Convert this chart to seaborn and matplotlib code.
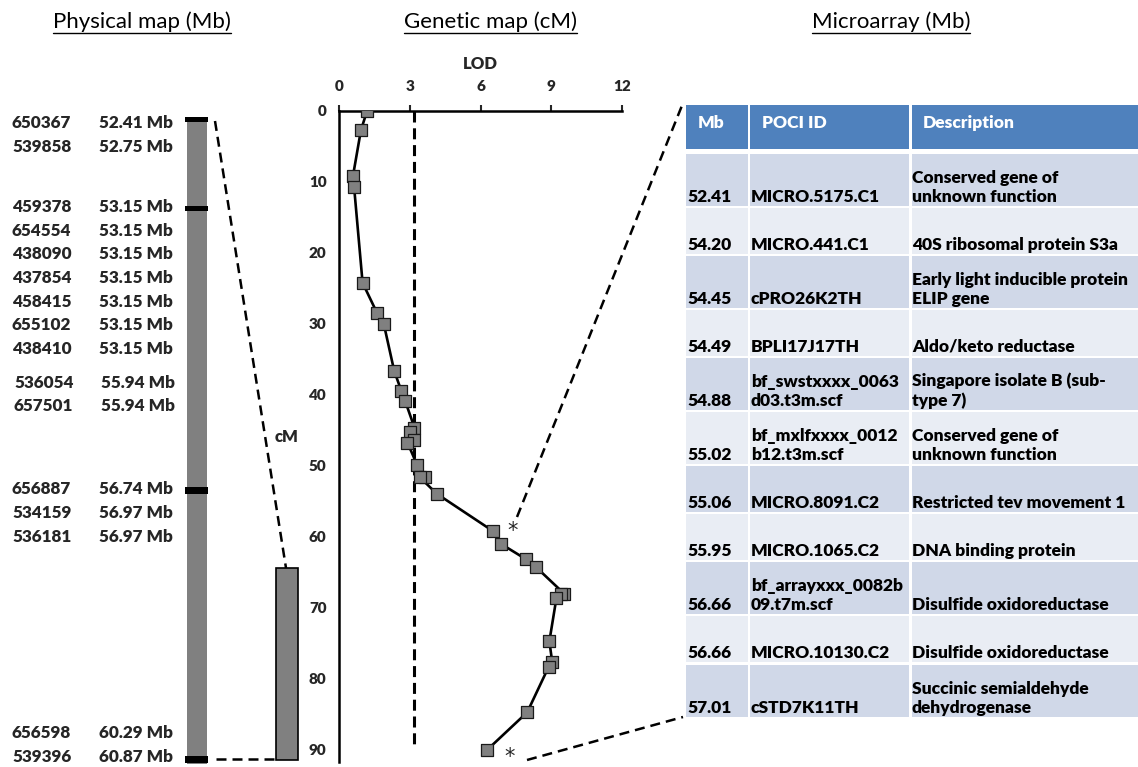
import matplotlib
matplotlib.use('Agg')
import matplotlib.pyplot as plt
import seaborn as sns
import pandas as pd
from matplotlib.patches import Rectangle

# ---------------- data ----------------
lod_cm = [0, 2.7, 9.2, 10.7, 24.2, 28.5, 30.0, 36.6, 39.4, 40.8, 44.6, 45.2, 46.3, 46.7,
          49.9, 51.5, 51.6, 53.9, 59.2, 61.0, 63.1, 64.2, 68.0, 68.0, 68.6, 74.7, 77.6,
          78.3, 84.7, 90.0]
lod_score = [1.19, 0.93, 0.59, 0.64, 1.00, 1.62, 1.90, 2.34, 2.64, 2.80, 3.20, 3.00, 3.20,
             2.90, 3.32, 3.64, 3.43, 4.14, 6.54, 6.88, 7.91, 8.34, 9.55, 9.40, 9.22, 8.92,
             9.04, 8.89, 7.98, 6.28]
lod_threshold = 3.2
threshold_end_cm = 89.3
lod_ticks = [0, 3, 6, 9, 12]
cm_ticks = [0, 10, 20, 30, 40, 50, 60, 70, 80, 90]
asterisk_lod = [7.37, 7.23]
asterisk_cm = [59.0, 90.8]

marker_ids = ['650367', '539858', '459378', '654554', '438090', '437854', '458415',
              '655102', '438410', '536054', '657501', '656887', '534159', '536181',
              '656598', '539396']
marker_mb = ['52.41 Mb', '52.75 Mb', '53.15 Mb', '53.15 Mb', '53.15 Mb', '53.15 Mb',
             '53.15 Mb', '53.15 Mb', '53.15 Mb', '55.94 Mb', '55.94 Mb', '56.74 Mb',
             '56.97 Mb', '56.97 Mb', '60.29 Mb', '60.87 Mb']
band_markers = ['650367', '459378', '656887', '539396']

table_header = ['Mb', 'POCI ID', 'Description']
table_mb = ['52.41', '54.20', '54.45', '54.49', '54.88', '55.02', '55.06', '55.95',
            '56.66', '56.66', '57.01']
table_poci = ['MICRO.5175.C1', 'MICRO.441.C1', 'cPRO26K2TH', 'BPLI17J17TH',
              'bf_swstxxxx_0063\nd03.t3m.scf', 'bf_mxlfxxxx_0012\nb12.t3m.scf',
              'MICRO.8091.C2', 'MICRO.1065.C2', 'bf_arrayxxx_0082b\n09.t7m.scf',
              'MICRO.10130.C2', 'cSTD7K11TH']
table_desc = ['Conserved gene of\nunknown function', '40S ribosomal protein S3a',
              'Early light inducible protein\nELIP gene', 'Aldo/keto reductase',
              'Singapore isolate B (sub-\ntype 7)', 'Conserved gene of\nunknown function',
              'Restricted tev movement 1', 'DNA binding protein', 'Disulfide oxidoreductase',
              'Disulfide oxidoreductase', 'Succinic semialdehyde\ndehydrogenase']

# ---------------- layout ----------------
label_y_px = [123, 146.5, 207, 230.5, 254, 278, 302, 325.5, 349, 382.5, 406, 489,
              512.5, 536.5, 733, 757]
label_dx_px = [0, 0, 0, 0, 0, 0, 0, 0, 0, 2, 2, 0, 0, 0, 0, 0]
BW = 800  # bold weight

sns.set_style('white')
plt.rcParams['font.family'] = ['Lato', 'DejaVu Sans']

W, H = 1138, 767
fig = plt.figure(figsize=(W / 100, H / 100), dpi=100)
ov = fig.add_axes([0, 0, 1, 1])
ov.set_xlim(0, W)
ov.set_ylim(H, 0)
ov.axis('off')


def frac(x0, y0, x1, y1):
    return [x0 / W, 1 - y1 / H, (x1 - x0) / W, (y1 - y0) / H]


# ---- titles ----
titles = []
for cx, t in [(142, 'Physical map (Mb)'), (491, 'Genetic map (cM)'), (891, 'Microarray (Mb)')]:
    titles.append(ov.text(cx, 22, t, ha='center', va='center', fontsize=16, color='black'))

# ---- physical map ----
ov.add_patch(Rectangle((187, 117), 20, 647, facecolor='#808080', edgecolor='none', zorder=1))
for mid, y, dx in zip(marker_ids, label_y_px, label_dx_px):
    ov.text(12 + dx, y, mid, ha='left', va='center', fontsize=12.3, fontweight=BW)
for mb, y, dx in zip(marker_mb, label_y_px, label_dx_px):
    ov.text(173 + dx, y, mb, ha='right', va='center', fontsize=12.3, fontweight=BW)
band_px = {'650367': (117, 5), '459378': (206, 4.5), '656887': (487, 7), '539396': (756, 7)}
for m in band_markers:
    y0, h = band_px[m]
    ov.add_patch(Rectangle((185, y0), 23, h, facecolor='black', edgecolor='none', zorder=2))

# small cM bar
ov.add_patch(Rectangle((276, 568), 22, 192, facecolor='#808080', edgecolor='black', lw=1.2, zorder=2))
dash = (0, (4.0, 2.4))
ov.plot([215, 286], [121, 568], color='black', lw=1.8, ls=dash)
ov.plot([216, 275], [759, 759], color='black', lw=1.8, ls=dash)

# ---- LOD plot ----
ax = fig.add_axes(frac(339, 111, 622, 762))
ax.patch.set_alpha(0)
df = pd.DataFrame({'cM': lod_cm, 'LOD': lod_score})
sns.lineplot(data=df, x='LOD', y='cM', sort=False, estimator=None, color='black',
             lw=1.9, ax=ax, zorder=2)
sns.scatterplot(data=df, x='LOD', y='cM', marker='s', s=80, color='#808080',
                edgecolor='#1a1a1a', linewidth=0.9, ax=ax, zorder=3)
ax.plot([lod_threshold, lod_threshold], [0, threshold_end_cm], color='black', lw=2.2,
        ls=(0, (3.6, 1.9)), zorder=1)
ax.set_xlim(0, 12)
ax.set_ylim(91.7, 0)
ax.xaxis.tick_top()
ax.xaxis.set_label_position('top')
ax.set_xticks(lod_ticks)
ax.set_yticks(cm_ticks)
for s in ['right', 'bottom']:
    ax.spines[s].set_visible(False)
for s in ['top', 'left']:
    ax.spines[s].set_linewidth(1.8)
    ax.spines[s].set_color('black')
ax.tick_params(axis='x', direction='out', length=4, width=1.5, pad=9, labelsize=11)
ax.tick_params(axis='y', direction='out', length=5, width=1.5, pad=4, labelsize=11)
for lab in ax.get_xticklabels() + ax.get_yticklabels():
    lab.set_fontweight(BW)
ax.set_xlabel('LOD', fontsize=12, fontweight=BW, labelpad=8)
ax.set_ylabel('cM', fontsize=12, fontweight=BW, rotation=0, va='center', ha='center')
ax.yaxis.set_label_coords(-0.184, 0.5)

# asterisks: glyph sits high in the em box, so anchor by baseline, offset down
for xl, yc in zip(asterisk_lod, asterisk_cm):
    ax.annotate('*', xy=(xl, yc), xytext=(0, -7), textcoords='offset pixels',
                ha='center', va='baseline', fontsize=15, family='DejaVu Sans',
                annotation_clip=False)

# zoom connector lines
ov.plot([517, 683], [517, 103], color='black', lw=1.8, ls=dash)
ov.plot([527, 683], [760, 717], color='black', lw=1.8, ls=dash)

# ---- table ----
col_x = [(686, 748), (750, 909.5), (912, 1140)]
header_top, header_bot = 105, 149
for (x0, x1), txt, tx in zip(col_x, table_header, [698, 762, 923]):
    ov.add_patch(Rectangle((x0, header_top), x1 - x0, header_bot - header_top,
                           facecolor='#4F81BD', edgecolor='none'))
    ov.text(tx, 123, txt, ha='left', va='center', color='white', fontsize=12.5, fontweight=BW)

y = 153.5
for i, (mb, poci, desc) in enumerate(zip(table_mb, table_poci, table_desc)):
    nlines = max(poci.count('\n'), desc.count('\n')) + 1
    h = 52 if nlines > 1 else 46
    fc = '#D0D8E8' if i % 2 == 0 else '#E9EDF4'
    for x0, x1 in col_x:
        ov.add_patch(Rectangle((x0, y), x1 - x0, h, facecolor=fc, edgecolor='none'))
    yb = y + h - 1
    for tx, txt in zip([687, 751, 912], [mb, poci, desc]):
        ov.text(tx, yb, txt, ha='left', va='bottom', fontsize=12.5, fontweight=BW,
                linespacing=1.22, color='black')
    y += h + 2.1

# underline titles
fig.canvas.draw()
r = fig.canvas.get_renderer()
for t in titles:
    bb = t.get_window_extent(r)
    ov.plot([bb.x0, bb.x1], [33, 33], color='black', lw=1.0)

fig.savefig('out.png', dpi=100)
